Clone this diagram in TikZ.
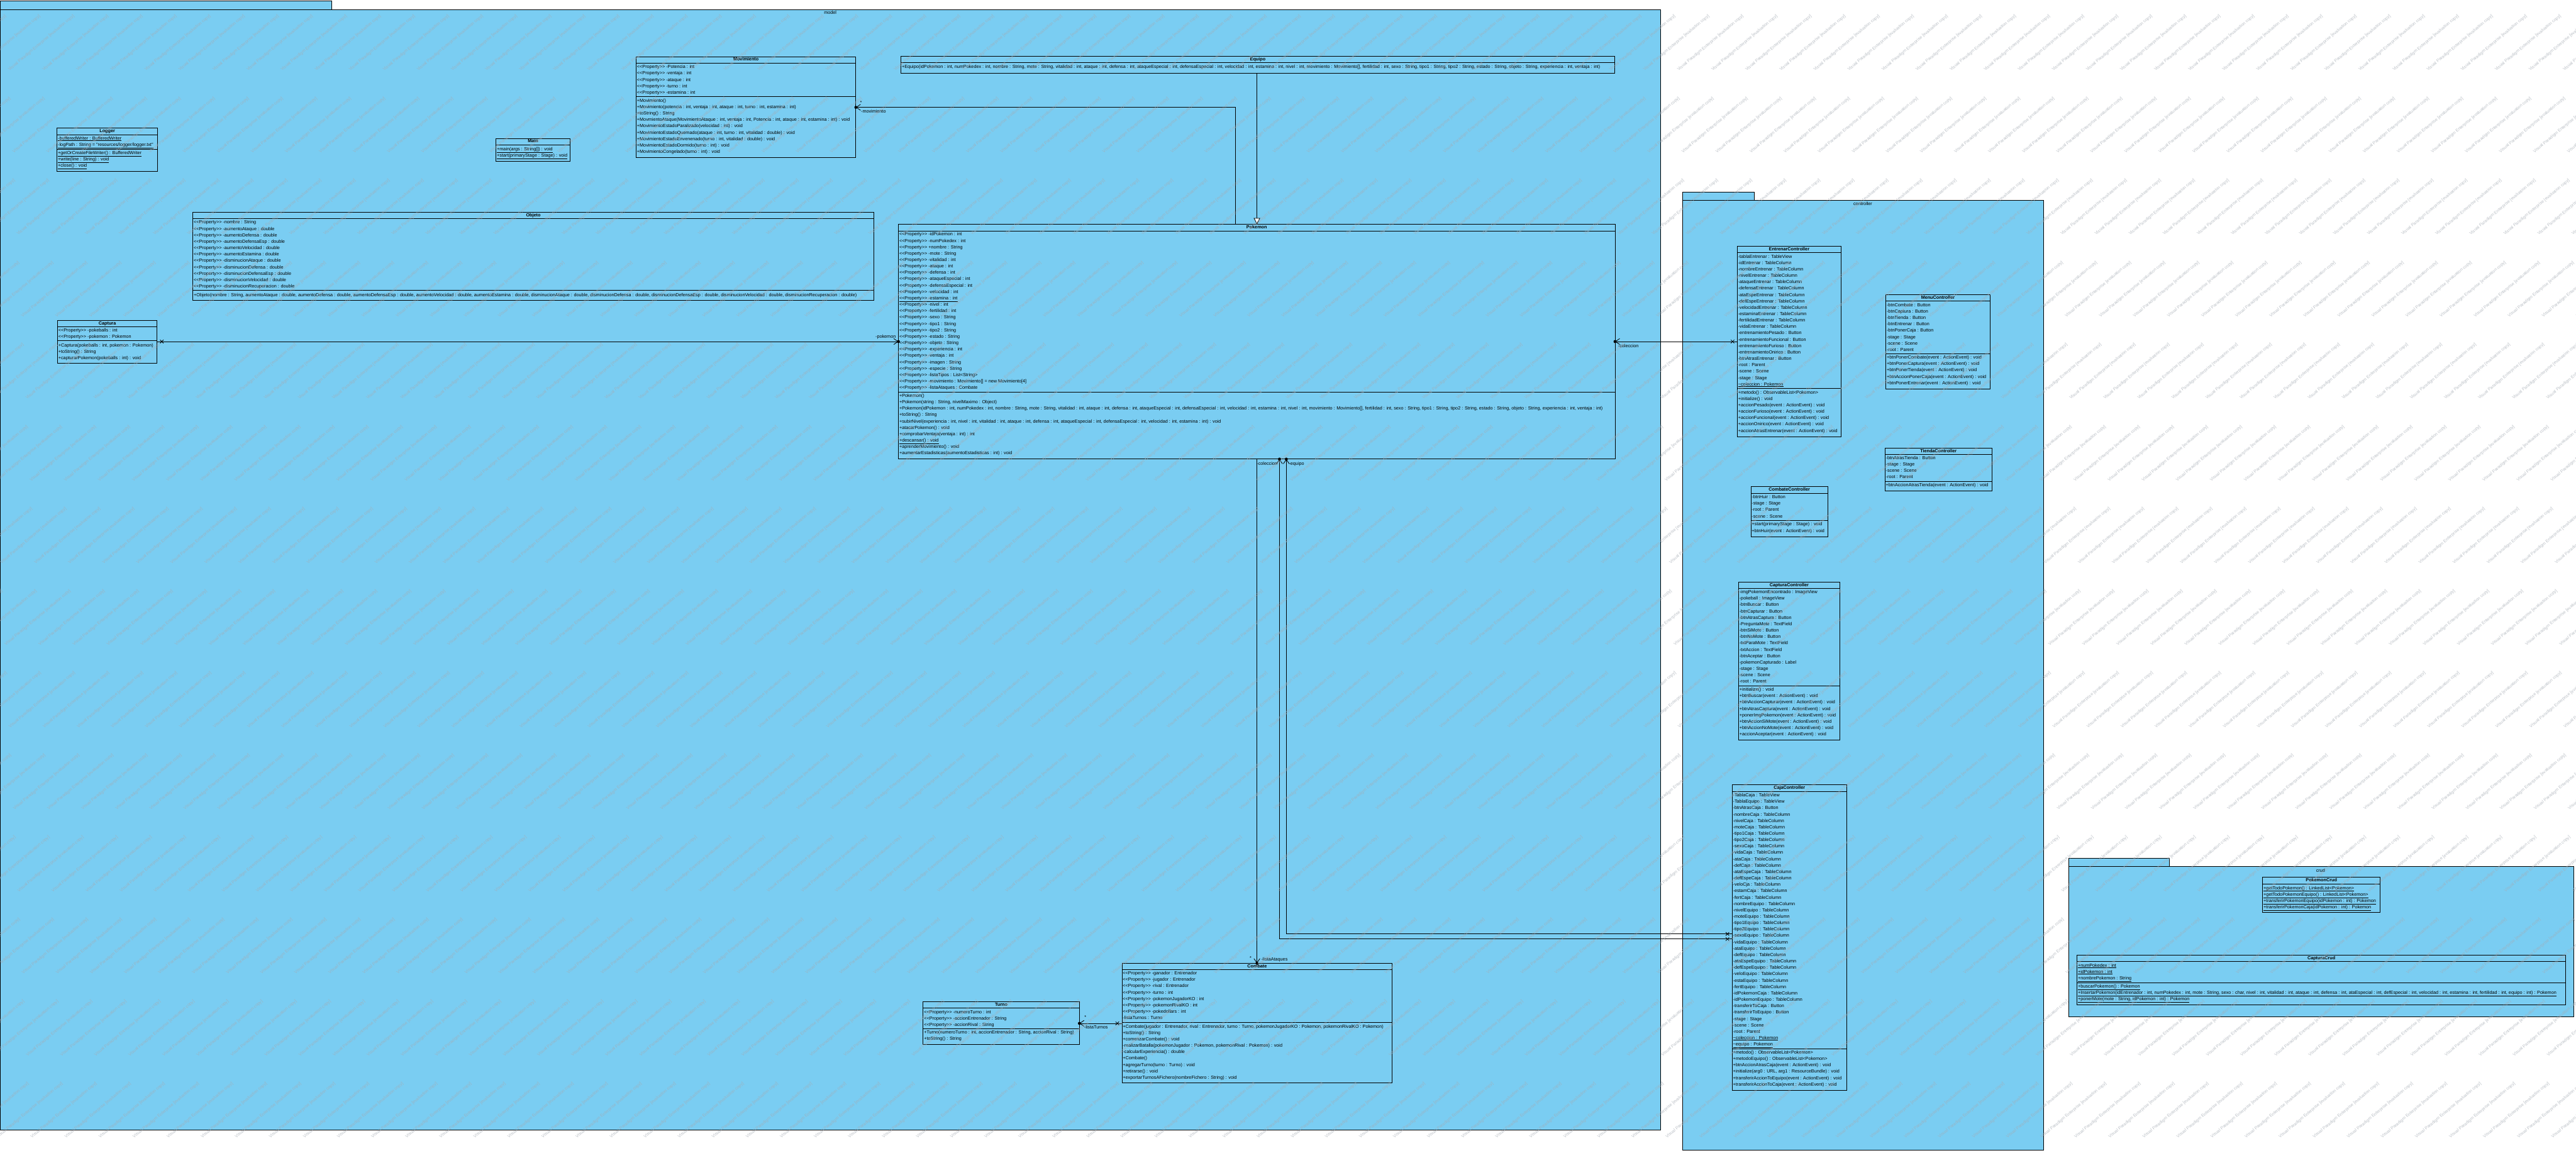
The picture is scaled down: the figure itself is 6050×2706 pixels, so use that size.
\documentclass[tikz,border=0pt]{standalone}
\usetikzlibrary{arrows.meta}
\font\ufr="Liberation Sans" at 10.7pt
\font\ufb="Liberation Sans/B" at 10.7pt
\font\ufw="Liberation Sans" at 10pt
\definecolor{pkblue}{RGB}{122,205,242}
\definecolor{wmgray}{RGB}{165,172,180}
\newcounter{rowc}
\newcommand\cls[6]{%
  \xdef\bx{#2}\xdef\bw{#4}%
  \node[clsbox, minimum width=#4pt, minimum height=#5pt] (#1) at (#2,#3) {};
  \node[ttl] (#1-t) at ({#2+#4/2},{#3+7.5}) {#6};
}
\newcommand\dv[1]{\draw[divl] (\bx,#1) -- ({\bx+\bw},#1);}
\newcommand\sr[1]{\xdef\cy{#1}}
\newcommand\R[1]{\stepcounter{rowc}\node[mem] (row\arabic{rowc}) at ({\bx+2},\cy) {#1};\pgfmathparse{\cy+15}\xdef\cy{\pgfmathresult}}
\newcommand\PR{<<Property>> }
\newcommand\U[1]{\underline{#1}}
\newcommand\xm[2]{\draw[assoc] ({#1-4},{#2-4}) -- ({#1+4},{#2+4}) ({#1-4},{#2+4}) -- ({#1+4},{#2-4});}
\begin{document}
\begin{tikzpicture}[x=1pt,y=-1pt,
  clsbox/.style={draw=black, line width=1.2pt, fill=pkblue, anchor=north west, inner sep=0pt, outer sep=0pt},
  pkgbox/.style={draw=black, line width=1.3pt, fill=pkblue, anchor=north west, inner sep=0pt, outer sep=0pt},
  ttl/.style={font=\ufb, inner sep=0pt, anchor=center, text height=8pt, text depth=2.5pt},
  mem/.style={font=\ufr, inner sep=0pt, anchor=west, text height=8pt, text depth=2.5pt},
  lbl/.style={font=\ufr, inner sep=0pt, text height=8pt, text depth=2.5pt},
  pkl/.style={font=\ufr, inner sep=0pt, anchor=center},
  divl/.style={draw=black, line width=1.2pt},
  assoc/.style={draw=black, line width=1.2pt},
  wm/.style={font=\ufw, text=wmgray, opacity=0.75, inner sep=0pt, rotate=40}
]
\useasboundingbox (0,0) rectangle (6050,2706);
\fill[white] (0,0) rectangle (6050,2706);

% ---------------- main package
\node[pkgbox, minimum width=779pt, minimum height=21pt] (mainTab) at (0,2) {};
\node[pkgbox, minimum width=3900pt, minimum height=2631pt] (mainPkg) at (0,23) {};
\node[pkl] (mainLbl) at (1950,30) {model};

% Logger
\cls{Logger}{134}{301}{236}{102}{Logger}
\dv{316}\sr{326}
\R{\U{-bufferedWriter : BufferedWriter}}
\R{\U{-logPath : String = "resources/logger/logger.txt"}}
\dv{350}\sr{360}
\R{\U{+getOrCreateFileWriter() : BufferedWriter}}
\R{\U{+write(line : String) : void}}
\R{\U{+close() : void}}

% Main
\cls{MainC}{1165}{325}{174}{53}{Main}
\dv{340}\sr{351}
\R{\U{+main(args : String[]) : void}}
\R{\U{+start(primaryStage : Stage) : void}}

% Movimiento
\cls{Movimiento}{1494}{133}{516}{237}{Movimiento}
\dv{148}\sr{158}
\R{\PR-Potencia : int}
\R{\PR-ventaja : int}
\R{\PR-ataque : int}
\R{\PR-turno : int}
\R{\PR-estamina : int}
\dv{227}\sr{237}
\R{+Movimiento()}
\R{+Movimiento(potencia : int, ventaja : int, ataque : int, turno : int, estamina : int)}
\R{+toString() : String}
\R{+MovmientoAtaque(MovimientoAtaque : int, ventaja : int, Potencia : int, ataque : int, estamina : int) : void}
\R{+MovimientoEstadoParalizado(velocidad : int) : void}
\R{+MovimientoEstadoQuemado(ataque : int, turno : int, vitalidad : double) : void}
\R{+MovimientoEstadoEnvenenado(turno : int, vitalidad : double) : void}
\R{+MovimientoEstadoDormido(turno : int) : void}
\R{+MovimientoCongelado(turno : int) : void}

% Equipo
\cls{Equipo}{2116}{132}{1676}{40}{Equipo}
\dv{147}\sr{158}
\R{+Equipo(idPokemon : int, numPokedex : int, nombre : String, mote : String, vitalidad : int, ataque : int, defensa : int, ataqueEspecial : int, defensaEspecial : int, velocidad : int, estamina : int, nivel : int, movimiento : Movimiento[], fertilidad : int, sexo : String, tipo1 : String, tipo2 : String, estado : String, objeto : String, experiencia : int, ventaja : int)}

% Objeto
\cls{Objeto}{453}{498}{1599}{207}{Objeto}
\dv{513}\sr{523}
\R{\PR-nombre : String}
\R{\PR-aumentoAtaque : double}
\R{\PR-aumentoDefensa : double}
\R{\PR-aumentoDefensaEsp : double}
\R{\PR-aumentoVelocidad : double}
\R{\PR-aumentoEstamina : double}
\R{\PR-disminucionAtaque : double}
\R{\PR-disminucionDefensa : double}
\R{\PR-disminucionDefensaEsp : double}
\R{\PR-disminucionVelocidad : double}
\R{\PR-disminucionRecuperacion : double}
\dv{682}\sr{693}
\R{+Objeto(nombre : String, aumentoAtaque : double, aumentoDefensa : double, aumentoDefensaEsp : double, aumentoVelocidad : double, aumentoEstamina : double, disminucionAtaque : double, disminucionDefensa : double, disminucionDefensaEsp : double, disminucionVelocidad : double, disminucionRecuperacion : double)}

% Captura
\cls{Captura}{135}{752}{234}{101}{Captura}
\dv{767}\sr{776}
\R{\PR-pokeballs : int}
\R{\PR-pokemon : Pokemon}
\dv{799}\sr{812}
\R{+Captura(pokeballs : int, pokemon : Pokemon)}
\R{+toString() : String}
\R{+capturarPokemon(pokeballs : int) : void}

% Pokemon
\cls{Pokemon}{2110}{527}{1683}{551}{Pokemon}
\dv{542}\sr{551}
\R{\PR-idPokemon : int}
\R{\PR-numPokedex : int}
\R{\PR+nombre : String}
\R{\PR-mote : String}
\R{\PR-vitalidad : int}
\R{\PR-ataque : int}
\R{\PR-defensa : int}
\R{\PR-ataqueEspecial : int}
\R{\PR-defensaEspecial : int}
\R{\PR-velocidad : int}
\R{\U{\PR-estamina : int}}
\R{\PR-nivel : int}
\R{\PR-fertilidad : int}
\R{\PR-sexo : String}
\R{\PR-tipo1 : String}
\R{\PR-tipo2 : String}
\R{\PR-estado : String}
\R{\PR-objeto : String}
\R{\PR-experiencia : int}
\R{\PR-ventaja : int}
\R{\PR-imagen : String}
\R{\PR-especie : String}
\R{\PR-listaTipos : List<String>}
\R{\PR-movimiento : Movimiento[] = new Movimiento[4]}
\R{\PR-listaAtaques : Combate}
\dv{921}\sr{930}
\R{+Pokemon()}
\R{+Pokemon(string : String, nivelMaximo : Object)}
\R{+Pokemon(idPokemon : int, numPokedex : int, nombre : String, mote : String, vitalidad : int, ataque : int, defensa : int, ataqueEspecial : int, defensaEspecial : int, velocidad : int, estamina : int, nivel : int, movimiento : Movimiento[], fertilidad : int, sexo : String, tipo1 : String, tipo2 : String, estado : String, objeto : String, experiencia : int, ventaja : int)}
\R{+toString() : String}
\R{+subirNivel(experiencia : int, nivel : int, vitalidad : int, ataque : int, defensa : int, ataqueEspecial : int, defensaEspecial : int, velocidad : int, estamina : int) : void}
\R{+atacarPokemon() : void}
\R{+comprobarVentaja(ventaja : int) : int}
\R{\U{+descansar() : void}}
\R{+aprenderMovimiento() : void}
\R{+aumentarEstadisticas(aumentoEstadisticas : int) : void}

% Combate
\cls{Combate}{2635}{2262}{635}{281}{Combate}
\dv{2276}\sr{2286}
\R{\PR-ganador : Entrenador}
\R{\PR-jugador : Entrenador}
\R{\PR-rival : Entrenador}
\R{\PR-turno : int}
\R{\PR-pokemonJugadorKO : int}
\R{\PR-pokemonRivalKO : int}
\R{\PR-pokedollars : int}
\R{-listaTurnos : Turno}
\dv{2401}\sr{2411}
\R{+Combate(jugador : Entrenador, rival : Entrenador, turno : Turno, pokemonJugadorKO : Pokemon, pokemonRivalKO : Pokemon)}
\R{+toString() : String}
\R{+comenzarCombate() : void}
\R{-realizarBatalla(pokemonJugador : Pokemon, pokemonRival : Pokemon) : void}
\R{-calcularExperiencia() : double}
\R{+Combate()}
\R{+agregarTurno(turno : Turno) : void}
\R{+retirarse() : void}
\R{+exportarTurnosAFichero(nombreFichero : String) : void}

% Turno
\cls{Turno}{2168}{2352}{367}{101}{Turno}
\dv{2367}\sr{2377}
\R{\PR-numeroTurno : int}
\R{\PR-accionEntrenador : String}
\R{\PR-accionRival : String}
\dv{2415}\sr{2425}
\R{+Turno(numeroTurno : int, accionEntrenador : String, accionRival : String)}
\R{+toString() : String}

% ---------------- controller package
\node[pkgbox, minimum width=169pt, minimum height=20pt] (ctlTab) at (3951,451) {};
\node[pkgbox, minimum width=849pt, minimum height=2229pt] (ctlPkg) at (3951,471) {};
\node[pkl] (ctlLbl) at (4375,479) {controller};

\cls{Entrenar}{4080}{578}{244}{447}{EntrenarController}
\dv{593}\sr{603}
\R{-tablaEntrenar : TableView}
\R{-idEntrenar : TableColumn}
\R{-nombreEntrenar : TableColumn}
\R{-nivelEntrenar : TableColumn}
\R{-ataqueEntrenar : TableColumn}
\R{-defensaEntrenar : TableColumn}
\R{-ataEspeEntrenar : TableColumn}
\R{-defEspeEntrenar : TableColumn}
\R{-velocidadEntrenar : TableColumn}
\R{-estaminaEntrenar : TableColumn}
\R{-fertilidadEntrenar : TableColumn}
\R{-vidaEntrenar : TableColumn}
\R{-entrenamientoPesado : Button}
\R{-entrenamientoFuncional : Button}
\R{-entrenamientoFurioso : Button}
\R{-entrenamientoOnirico : Button}
\R{-btnAtrasEntrenar : Button}
\R{-root : Parent}
\R{-scene : Scene}
\R{-stage : Stage}
\R{\U{\char"7E coleccion : Pokemon}}
\dv{912}\sr{922}
\R{+metodo() : ObservableList<Pokemon>}
\R{+initialize() : void}
\R{+accionPesado(event : ActionEvent) : void}
\R{+accionFurioso(event : ActionEvent) : void}
\R{+accionFuncional(event : ActionEvent) : void}
\R{+accionOnirico(event : ActionEvent) : void}
\R{+accionAtrasEntrenar(event : ActionEvent) : void}

\cls{Menu}{4429}{692}{245}{221}{MenuController}
\dv{707}\sr{717}
\R{-btnCombate : Button}
\R{-btnCaptura : Button}
\R{-btnTienda : Button}
\R{-btnEntrenar : Button}
\R{-btnPonerCaja : Button}
\R{-stage : Stage}
\R{-scene : Scene}
\R{-root : Parent}
\dv{831}\sr{840}
\R{+btnPonerCombate(event : ActionEvent) : void}
\R{+btnPonerCaptura(event : ActionEvent) : void}
\R{+btnPonerTienda(event : ActionEvent) : void}
\R{+btnAccionPonerCaja(event : ActionEvent) : void}
\R{+btnPonerEntrenar(event : ActionEvent) : void}

\cls{Tienda}{4427}{1052}{251}{101}{TiendaController}
\dv{1067}\sr{1076}
\R{-btnAtrasTienda : Button}
\R{-stage : Stage}
\R{-scene : Scene}
\R{-root : Parent}
\dv{1131}\sr{1140}
\R{+btnAccionAtrasTienda(event : ActionEvent) : void}

\cls{CombateCtl}{4112}{1143}{181}{117}{CombateController}
\dv{1159}\sr{1168}
\R{-btnHuir : Button}
\R{-stage : Stage}
\R{-root : Parent}
\R{-scene : Scene}
\dv{1222}\sr{1232}
\R{+start(primaryStage : Stage) : void}
\R{+btnHuir(event : ActionEvent) : void}

\cls{CapturaCtl}{4083}{1367}{238}{371}{CapturaController}
\dv{1382}\sr{1391}
\R{-imgPokemonEncontrado : ImageView}
\R{-pokeball : ImageView}
\R{-btnBuscar : Button}
\R{-btnCapturar : Button}
\R{-btnAtrasCaptura : Button}
\R{-PreguntaMote : TextField}
\R{-btnSiMote : Button}
\R{-btnNoMote : Button}
\R{-txtParaMote : TextField}
\R{-txtAccion : TextField}
\R{-btnAceptar : Button}
\R{-pokemonCapturado : Label}
\R{-stage : Stage}
\R{-scene : Scene}
\R{-root : Parent}
\dv{1610}\sr{1620}
\R{+initialize() : void}
\R{+btnBuscar(event : ActionEvent) : void}
\R{+btnAccionCapturar(event : ActionEvent) : void}
\R{+btnAtrasCaptura(event : ActionEvent) : void}
\R{+ponerImgPokemon(event : ActionEvent) : void}
\R{+btnAccionSiMote(event : ActionEvent) : void}
\R{+btnAccionNoMote(event : ActionEvent) : void}
\R{+accionAceptar(event : ActionEvent) : void}

\cls{Caja}{4068}{1843}{269}{717}{CajaController}
\dv{1859}\sr{1868}
\R{-TablaCaja : TableView}
\R{-TablaEquipo : TableView}
\R{-btnAtrasCaja : Button}
\R{-nombreCaja : TableColumn}
\R{-nivelCaja : TableColumn}
\R{-moteCaja : TableColumn}
\R{-tipo1Caja : TableColumn}
\R{-tipo2Caja : TableColumn}
\R{-sexoCaja : TableColumn}
\R{-vidaCaja : TableColumn}
\R{-ataCaja : TableColumn}
\R{-defCaja : TableColumn}
\R{-ataEspeCaja : TableColumn}
\R{-defEspeCaja : TableColumn}
\R{-veloCja : TableColumn}
\R{-estamCaja : TableColumn}
\R{-fertCaja : TableColumn}
\R{-nombreEquipo : TableColumn}
\R{-nivelEquipo : TableColumn}
\R{-moteEquipo : TableColumn}
\R{-tipo1Equipo : TableColumn}
\R{-tipo2Equipo : TableColumn}
\R{-sexoEquipo : TableColumn}
\R{-vidaEquipo : TableColumn}
\R{-ataEquipo : TableColumn}
\R{-defEquipo : TableColumn}
\R{-ataEspeEquipo : TableColumn}
\R{-defEspeEquipo : TableColumn}
\R{-veloEquipo : TableColumn}
\R{-estaEquipo : TableColumn}
\R{-fertEquipo : TableColumn}
\R{-idPokemonCaja : TableColumn}
\R{-idPokemonEquipo : TableColumn}
\R{-transferirToCaja : Button}
\R{-transferirToEquipo : Button}
\R{-stage : Stage}
\R{-scene : Scene}
\R{-root : Parent}
\R{\U{\char"7E coleccion : Pokemon}}
\R{\U{\char"7E equipo : Pokemon}}
\dv{2463}\sr{2472}
\R{+metodo() : ObservableList<Pokemon>}
\R{+metodoEquipo() : ObservableList<Pokemon>}
\R{+btnAccionAtrasCaja(event : ActionEvent) : void}
\R{+initialize(arg0 : URL, arg1 : ResourceBundle) : void}
\R{+transferirAccionToEquipo(event : ActionEvent) : void}
\R{+transferirAccionToCaja(event : ActionEvent) : void}

% ---------------- crud package
\node[pkgbox, minimum width=237pt, minimum height=20pt] (crudTab) at (4858,2015) {};
\node[pkgbox, minimum width=1187pt, minimum height=352pt] (crudPkg) at (4858,2035) {};
\node[pkl] (crudLbl) at (5450,2044) {crud};

\cls{PokemonCrud}{5314}{2060}{276}{83}{PokemonCrud}
\dv{2076}\sr{2086}
\R{\U{+getTodoPokemon() : LinkedList<Pokemon>}}
\R{\U{+getTodoPokemonEquipo() : LinkedList<Pokemon>}}
\R{\U{+transferirPokemonEquipo(idPokemon : int) : Pokemon}}
\R{\U{+transferirPokemonCaja(idPokemon : int) : Pokemon}}

\cls{CapturaCrud}{4878}{2243}{1148}{117}{CapturaCrud}
\dv{2258}\sr{2268}
\R{\U{+numPokedex : int}}
\R{\U{+idPokemon : int}}
\R{\U{+nombrePokemon : String}}
\dv{2307}\sr{2317}
\R{\U{+buscarPokemon() : Pokemon}}
\R{\U{+InsertarPokemon(idEntrenador : int, numPokedex : int, mote : String, sexo : char, nivel : int, vitalidad : int, ataque : int, defensa : int, ataEspecial : int, defEspecial : int, velocidad : int, estamina : int, fertilidad : int, equipo : int) : Pokemon}}
\R{\U{+ponerMote(mote : String, idPokemon : int) : Pokemon}}

% ---------------- connectors
% Movimiento <- Pokemon
\draw[assoc, {Straight Barb[length=10pt,width=14pt,line width=1.2pt]}-] (Movimiento.east |- 0,252) -- (2902,252) -- (Pokemon.north -| 2902,0);
\fill (Movimiento.east |- 0,252) circle (3.5pt);
\node[lbl, anchor=center] (mMult) at (2022,241) {*};
\node[lbl, anchor=west] (mRole) at (2022,263) {-movimiento};
% Equipo generalization
\draw[assoc, -{Triangle[length=15pt,width=15pt,fill=white,line width=1.2pt]}] (Equipo.south -| 2952,0) -- (Pokemon.north -| 2952,0);
% Captura -> Pokemon
\draw[assoc, -{Straight Barb[length=10pt,width=14pt,line width=1.2pt]}] (Captura.east |- 0,802) -- (Pokemon.west |- 0,802);
\fill (Pokemon.west |- 0,802) circle (3.5pt);
\xm{380}{802}
\node[lbl, anchor=east] (cRole) at (2104,791) {-pokemon};
% Entrenar -> Pokemon
\draw[assoc, {Straight Barb[length=10pt,width=14pt,line width=1.2pt]}-] (Pokemon.east |- 0,802) -- (Entrenar.west |- 0,802);
\fill (Pokemon.east |- 0,802) circle (3.5pt);
\xm{4069}{802}
\node[lbl, anchor=west] (eRole) at (3800,813) {-coleccion};
% Pokemon -> Combate
\draw[assoc, -{Straight Barb[length=10pt,width=14pt,line width=1.2pt]}] (Pokemon.south -| 2952,0) -- (Combate.north -| 2952,0);
\fill (Combate.north -| 2952,0) circle (3.5pt);
\node[lbl, anchor=center] (aMult) at (2937,2251) {*};
\node[lbl, anchor=west] (aRole) at (2962,2253) {-listaAtaques};
% Caja -> Pokemon (two)
\draw[assoc, {Straight Barb[length=10pt,width=14pt,line width=1.2pt]}-] (Pokemon.south -| 3005,0) -- (3005,2205) -- (Caja.west |- 0,2205);
\fill (Pokemon.south -| 3005,0) circle (3.5pt);
\xm{4057}{2205}
\draw[assoc, {Straight Barb[length=10pt,width=14pt,line width=1.2pt]}-] (Pokemon.south -| 3021,0) -- (3021,2193) -- (Caja.west |- 0,2193);
\fill (Pokemon.south -| 3021,0) circle (3.5pt);
\xm{4057}{2193}
\node[lbl, anchor=east] (kRole1) at (3000,1089) {-coleccion};
\node[lbl, anchor=west] (kRole2) at (3027,1089) {-equipo};
% Combate -> Turno
\draw[assoc, -{Straight Barb[length=10pt,width=14pt,line width=1.2pt]}] (Combate.west |- 0,2403) -- (Turno.east |- 0,2403);
\fill (Turno.east |- 0,2403) circle (3.5pt);
\xm{2624}{2403}
\node[lbl, anchor=center] (tMult) at (2549,2390) {*};
\node[lbl, anchor=west] (tRole) at (2546,2413) {-listaTurnos};

% ---------------- watermark
\foreach \j in {0,...,15}{
  \pgfmathsetmacro\yy{2800-192.8*\j}
  \pgfmathsetmacro\xo{mod(229.8*\j,80)}
  \foreach \i in {-3,...,76}{
    \node[wm] (wm-\j-\i) at ({\xo+80*\i},\yy) {Visual Paradigm Enterprise [evaluation copy]};
  }
}
\end{tikzpicture}
\end{document}
